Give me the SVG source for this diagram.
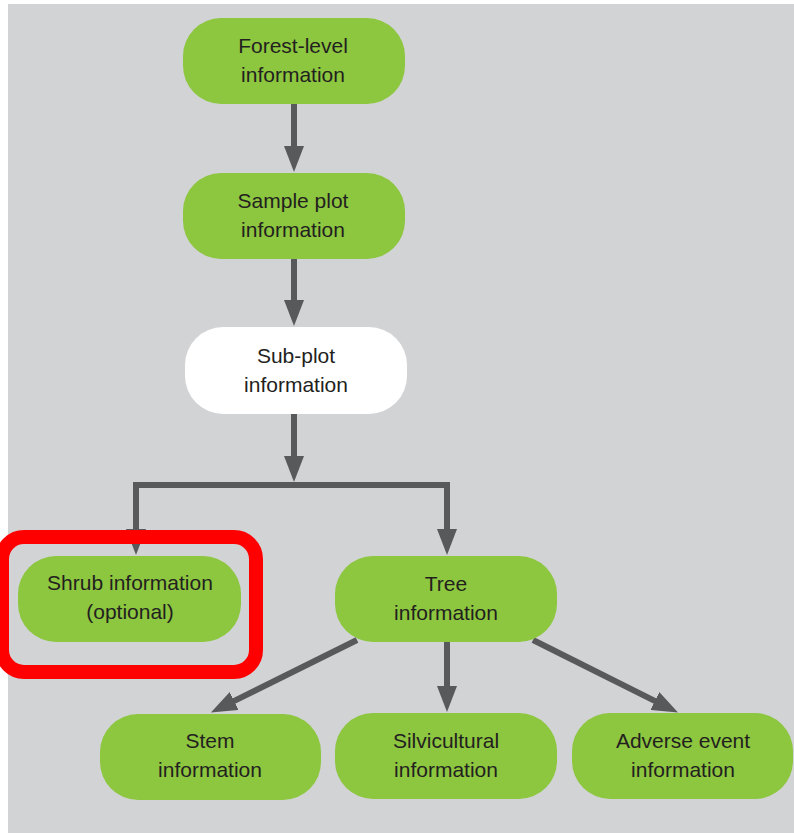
<svg xmlns="http://www.w3.org/2000/svg" width="794" height="833" viewBox="0 0 794 833">
  <style>
    .node { fill: #8dc63f; }
    .node.plain { fill: #ffffff; }
    .label { font-family: "Liberation Sans", Arial, sans-serif; font-size: 21px; fill: #231f20; text-anchor: middle; }
    .link { stroke: #58595b; stroke-width: 6; fill: none; }
    .head { fill: #58595b; }
  </style>
  <defs>
    <!-- arrowhead: base sits on the line end, tip 26px further on -->
    <marker id="arrow" markerUnits="userSpaceOnUse" markerWidth="26" markerHeight="20" refX="1" refY="10" viewBox="0 0 26 20" orient="auto">
      <path class="head" d="M0,0 L26,10 L0,20 Z"/>
    </marker>
  </defs>

  <rect x="0" y="0" width="794" height="833" fill="#ffffff"/>
  <rect x="8" y="4" width="786" height="829" fill="#d2d3d5"/>

  <g id="connectors">
    <line class="link" x1="294" y1="104" x2="294" y2="147" marker-end="url(#arrow)"/>
    <line class="link" x1="294" y1="259" x2="294" y2="301" marker-end="url(#arrow)"/>
    <line class="link" x1="294" y1="414" x2="294" y2="457" marker-end="url(#arrow)"/>
    <polyline class="link" points="136,530 136,485 447,485 447,530"/>
    <line class="link" x1="136" y1="500" x2="136" y2="530" marker-end="url(#arrow)"/>
    <line class="link" x1="447" y1="500" x2="447" y2="530" marker-end="url(#arrow)"/>
    <line class="link" x1="447" y1="642" x2="447" y2="687" marker-end="url(#arrow)"/>
    <line class="link" x1="357" y1="640" x2="233.3" y2="701.4" marker-end="url(#arrow)"/>
    <line class="link" x1="533" y1="640" x2="655.7" y2="701.4" marker-end="url(#arrow)"/>
  </g>

  <g id="forest-level">
    <rect class="node" x="183" y="18" width="222" height="86" rx="38"/>
    <text class="label" x="293" y="53">Forest-level</text>
    <text class="label" x="293" y="82">information</text>
  </g>
  <g id="sample-plot">
    <rect class="node" x="183" y="173" width="222" height="86" rx="38"/>
    <text class="label" x="293" y="208">Sample plot</text>
    <text class="label" x="293" y="237">information</text>
  </g>
  <g id="sub-plot">
    <rect class="node plain" x="185" y="327" width="222" height="87" rx="38"/>
    <text class="label" x="296" y="363">Sub-plot</text>
    <text class="label" x="296" y="392">information</text>
  </g>
  <g id="shrub">
    <rect class="node" x="18" y="556" width="223" height="86" rx="38"/>
    <text class="label" x="130" y="590">Shrub information</text>
    <text class="label" x="130" y="619">(optional)</text>
  </g>
  <g id="tree">
    <rect class="node" x="335" y="556" width="222" height="86" rx="38"/>
    <text class="label" x="446" y="591">Tree</text>
    <text class="label" x="446" y="620">information</text>
  </g>
  <g id="stem">
    <rect class="node" x="100" y="714" width="221" height="86" rx="38"/>
    <text class="label" x="210" y="748">Stem</text>
    <text class="label" x="210" y="777">information</text>
  </g>
  <g id="silvicultural">
    <rect class="node" x="335" y="713" width="222" height="86" rx="38"/>
    <text class="label" x="446" y="748">Silvicultural</text>
    <text class="label" x="446" y="777">information</text>
  </g>
  <g id="adverse-event">
    <rect class="node" x="572" y="713" width="221" height="86" rx="38"/>
    <text class="label" x="683" y="748">Adverse event</text>
    <text class="label" x="683" y="777">information</text>
  </g>

  <g id="highlight">
    <rect x="2" y="537" width="254" height="135" rx="22" fill="none" stroke="#ff0000" stroke-width="14"/>
  </g>
</svg>
